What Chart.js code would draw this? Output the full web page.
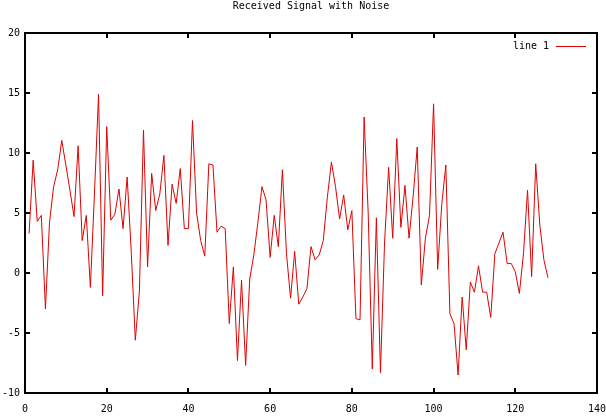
<!DOCTYPE html>
<html lang="en">
<head>
  <meta charset="UTF-8">
  <title>Received Signal with Noise</title>
  <script src="https://cdn.jsdelivr.net/npm/chart.js"></script>
  <style>
    body {
      margin: 0;
      background: #fff;
    }
    #wrap {
      width: 606px;
      height: 417px;
    }
  </style>
</head>
<body>
  <div id="wrap">
    <canvas id="signalChart" width="606" height="417"></canvas>
  </div>

  <script>
    // received samples (sample 1..128)
    const signal = [
      3.3, 9.4, 4.3, 4.8, -3.0, 4.2, 7.2, 8.6, 11.05, 9.0,
      6.9, 4.7, 10.6, 2.7, 4.8, -1.2, 6.6, 14.9, -1.9, 12.2,
      4.4, 4.9, 7.0, 3.7, 8.0, 1.8, -5.6, -1.5, 11.9, 0.5,
      8.3, 5.2, 6.6, 9.8, 2.3, 7.4, 5.8, 8.7, 3.7, 3.7,
      12.7, 5.0, 2.7, 1.4, 9.1, 9.0, 3.4, 3.9, 3.7, -4.2,
      0.5, -7.3, -0.6, -7.7, -0.5, 1.5, 4.2, 7.2, 6.1, 1.3,
      4.8, 2.2, 8.6, 1.6, -2.1, 1.8, -2.6, -2.0, -1.3, 2.2,
      1.1, 1.5, 2.7, 6.3, 9.25, 7.2, 4.5, 6.5, 3.6, 5.2,
      -3.8, -3.9, 13.0, 5.0, -8.0, 4.6, -8.3, 2.5, 8.8, 2.9,
      11.2, 3.8, 7.3, 2.9, 6.4, 10.5, -1.0, 2.9, 4.8, 14.1,
      0.3, 5.7, 9.0, -3.4, -4.2, -8.5, -2.0, -6.4, -0.75, -1.6,
      0.6, -1.6, -1.6, -3.7, 1.6, 2.5, 3.4, 0.8, 0.8, 0.1,
      -1.7, 1.6, 6.9, -0.3, 9.1, 4.0, 1.1, -0.4
    ];
    const samples = signal.map((v, i) => i + 1);

    const xTicks = [0, 20, 40, 60, 80, 100, 120, 140];
    const yTicks = [-10, -5, 0, 5, 10, 15, 20];

    const FONT = { family: 'DejaVu Sans Mono', size: 10, weight: 'normal' };
    const RED = '#e00000';

    // gnuplot-like frame: border, inward ticks on all four sides, key
    const framePlugin = {
      id: 'frame',
      afterDraw(chart) {
        const { ctx, chartArea: a, scales: { x, y } } = chart;
        ctx.save();
        ctx.strokeStyle = '#000';
        ctx.lineWidth = 2;
        ctx.strokeRect(a.left, a.top, a.right - a.left, a.bottom - a.top);

        ctx.beginPath();
        x.ticks.forEach(t => {
          const px = Math.round(x.getPixelForValue(t.value));
          ctx.moveTo(px, a.bottom); ctx.lineTo(px, a.bottom - 5);
          ctx.moveTo(px, a.top); ctx.lineTo(px, a.top + 5);
        });
        y.ticks.forEach(t => {
          const py = Math.round(y.getPixelForValue(t.value));
          ctx.moveTo(a.left, py); ctx.lineTo(a.left + 5, py);
          ctx.moveTo(a.right, py); ctx.lineTo(a.right - 5, py);
        });
        ctx.stroke();

        // key
        ctx.font = '10px "DejaVu Sans Mono"';
        ctx.fillStyle = '#000';
        ctx.textAlign = 'right';
        ctx.textBaseline = 'middle';
        ctx.fillText(chart.data.datasets[0].label, a.right - 48, a.top + 13);
        ctx.strokeStyle = RED;
        ctx.lineWidth = 1;
        ctx.beginPath();
        ctx.moveTo(a.right - 41, a.top + 13.5);
        ctx.lineTo(a.right - 11, a.top + 13.5);
        ctx.stroke();
        ctx.restore();
      }
    };

    new Chart(document.getElementById('signalChart'), {
      type: 'line',
      data: {
        labels: samples,
        datasets: [{
          label: 'line 1',
          data: signal,
          borderColor: RED,
          borderWidth: 1,
          pointRadius: 0,
          tension: 0,
          fill: false
        }]
      },
      options: {
        responsive: false,
        animation: false,
        layout: { padding: { left: 0, right: 9, top: 0, bottom: 0 } },
        plugins: {
          legend: { display: false },
          tooltip: { enabled: false },
          title: {
            display: true,
            fullSize: false,
            text: 'Received Signal with Noise',
            color: '#000',
            font: FONT,
            padding: { top: 0, bottom: 21 }
          }
        },
        scales: {
          x: {
            type: 'linear',
            min: 0,
            max: 140,
            afterBuildTicks: s => { s.ticks = xTicks.map(v => ({ value: v })); },
            afterFit: s => {
              s.height = 24;
              s.paddingLeft = 0;
              s.paddingRight = 0;
            },
            grid: { display: false, drawTicks: false },
            border: { display: false },
            ticks: { color: '#000', font: FONT, padding: 10, maxRotation: 0 }
          },
          y: {
            min: -10,
            max: 20,
            afterBuildTicks: s => { s.ticks = yTicks.map(v => ({ value: v })); },
            afterFit: s => {
              s.width = 25;
              s.paddingTop = 0;
              s.paddingBottom = 0;
            },
            grid: { display: false, drawTicks: false },
            border: { display: false },
            ticks: { color: '#000', font: FONT, padding: 5 }
          }
        }
      },
      plugins: [framePlugin]
    });
  </script>
</body>
</html>
